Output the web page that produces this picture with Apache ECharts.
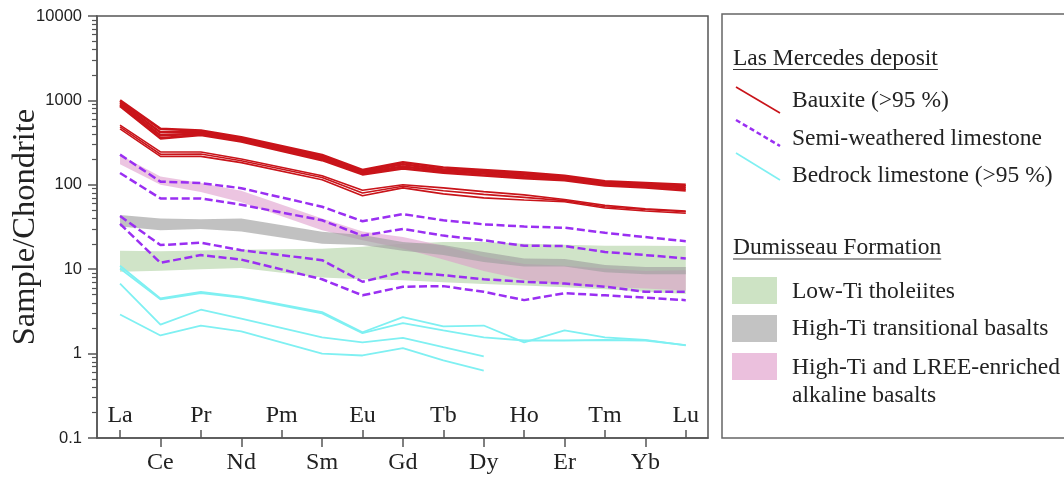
<!DOCTYPE html>
<html>
<head>
<meta charset="utf-8">
<script src="https://cdn.jsdelivr.net/npm/echarts@6/dist/echarts.min.js"></script>
<style>
  html, body { margin: 0; padding: 0; background: #fff; }
  #chart { width: 1064px; height: 477px; }
</style>
</head>
<body>
<div id="chart"></div>
<script>
// REE elements, Pm has no analysis (null), lines run straight through it
const elements = ['La', 'Ce', 'Pr', 'Nd', 'Pm', 'Sm', 'Eu', 'Gd', 'Tb', 'Dy', 'Ho', 'Er', 'Tm', 'Yb', 'Lu'];
const yTicks = [0.1, 1, 10, 100, 1000, 10000];

// Las Mercedes bauxite (>95 %)
const bauxite1 = [1000, 460, 440, 365, null, 225, 150, 185, 160, 150, 140, 128, 110, 105, 100];
const bauxite2 = [950, 420, 420, 350, null, 215, 145, 175, 152, 143, 133, 123, 106, 101, 96];
const bauxite3 = [900, 385, 405, 338, null, 205, 139, 165, 146, 136, 126, 118, 102, 97, 91];
const bauxite4 = [860, 355, 390, 326, null, 196, 133, 156, 139, 129, 120, 113, 98, 93, 86];
const bauxite5 = [510, 245, 245, 202, null, 128, 86, 100, 92, 83, 76, 67, 57, 52, 49];
const bauxite6 = [485, 230, 232, 193, null, 122, 80, 96, 85, 77, 71, 65, 55, 51, 48];
const bauxite7 = [460, 217, 217, 183, null, 115, 74, 92, 78, 70, 66, 63, 53, 49, 46];

// semi-weathered limestone
const semi1 = [228, 109, 105, 91, null, 55, 37, 45, 38, 34, 32, 31, 27, 24, 21.5];
const semi2 = [138, 69, 69, 58, null, 38, 25, 30, 25, 22, 19, 18.8, 16, 14.7, 13.4];
const semi3 = [42.7, 19.3, 20.6, 16.8, null, 12.8, 7.1, 9.3, 8.5, 7.6, 7.1, 6.75, 6.2, 5.4, 5.4];
const semi4 = [34.4, 11.9, 14.7, 13, null, 7.6, 4.9, 6.2, 6.3, 5.4, 4.3, 5.2, 4.9, 4.6, 4.3];

// bedrock limestone (>95 %)
const bedrock1 = [11, 4.5, 5.4, 4.7, null, 3.1, 1.79, 2.71, 2.1, 2.15, 1.36, 1.88, 1.56, 1.45, 1.25];
const bedrock2 = [10.2, 4.4, 5.2, 4.6, null, 3.0, 1.75, 2.29, 1.88, 1.56, 1.43, 1.43, 1.45, 1.43, 1.26];
const bedrock3 = [6.75, 2.21, 3.31, 2.59, null, 1.56, 1.36, 1.54, 1.19, 0.93, null, null, null, null, null];
const bedrock4 = [2.91, 1.64, 2.14, 1.83, null, 1.0, 0.95, 1.16, 0.83, 0.63, null, null, null, null, null];

// Dumisseau Formation fields (upper / lower envelope)
const lowTiUpper = [16.5, 16.3, 16.6, 17, null, 17.5, 18.5, 20, 21, 21, 20, 19.5, 19, 19, 18.8];
const lowTiLower = [9.3, 9.6, 10, 10.3, null, 8.0, 7.6, 7.4, 7.0, 6.7, 6.4, 6.1, 5.8, 5.4, 5.1];
const highTiUpper = [44, 40, 39, 40, null, 27.7, 25.4, 21, 19.3, 16, 13.4, 13.2, 11.2, 10.6, 10.6];
const highTiLower = [32, 29, 30, 28, null, 20, 19.3, 16.5, 14.7, 12.2, 10.8, 10.8, 9.2, 8.7, 8.7];
const alkUpper = [225, 125, 105, 85, null, 40, 28, 24, 19, 14, 11.5, 11, 10.2, 9.5, 9.7];
const alkLower = [175, 100, 82, 62, null, 29, 22, 17.6, 13, 9.5, 7.5, 6.5, 6.2, 5.9, 5.6];

const RED = '#c9141a', PURPLE = '#9a2ff2', CYAN = '#7ff0f2';
const SERIF = 'Liberation Serif', SANS = 'Liberation Sans';
const AXIS = '#555';

const innerIdx = elements.map((e, i) => i).filter(i => i % 2 === 0);
const outerIdx = elements.map((e, i) => i).filter(i => i % 2 === 1);
const minorTicks = [];
yTicks.slice(0, -1).forEach(d => { for (let k = 2; k <= 9; k++) minorTicks.push(+(d * k).toPrecision(3)); });

function pts(vals) {
  return vals.map((v, i) => [i, v]).filter(p => p[1] != null);
}

function line(vals, color, width, type) {
  return {
    type: 'line', data: pts(vals), symbol: 'none', silent: true, z: 5,
    lineStyle: { color: color, width: width, type: type || 'solid', cap: 'butt' }
  };
}

function band(upper, lower, color, z) {
  return {
    type: 'custom', silent: true, z: z, data: [[0, 1]],
    renderItem: function (params, api) {
      const top = pts(upper).map(p => api.coord(p));
      const bot = pts(lower).map(p => api.coord(p)).reverse();
      return { type: 'polygon', shape: { points: top.concat(bot) }, style: { fill: color } };
    }
  };
}

const chart = echarts.init(document.getElementById('chart'));

// legend on the right is drawn as plain graphics
const ctx = document.createElement('canvas').getContext('2d');
const LFONT = 23.5;
ctx.font = LFONT + 'px "' + SERIF + '"';
function txt(x, y, s) {
  return { type: 'text', x: x, y: y, style: { text: s, font: LFONT + 'px "' + SERIF + '"', fill: '#222', verticalAlign: 'middle' } };
}
function underline(x, y, s) {
  return { type: 'line', shape: { x1: x, y1: y, x2: x + ctx.measureText(s).width, y2: y }, style: { stroke: '#333', lineWidth: 1.2 } };
}
const graphics = [
  { type: 'rect', shape: { x: 722, y: 14, width: 400, height: 424 }, style: { fill: '#fff', stroke: '#666', lineWidth: 1.5 } },
  txt(733, 59, 'Las Mercedes deposit'), underline(733, 69.5, 'Las Mercedes deposit'),
  { type: 'line', shape: { x1: 736, y1: 87, x2: 780, y2: 113 }, style: { stroke: RED, lineWidth: 1.6 } },
  txt(792, 100.5, 'Bauxite (>95 %)'),
  { type: 'line', shape: { x1: 736, y1: 120, x2: 780, y2: 146 }, style: { stroke: PURPLE, lineWidth: 2.5, lineDash: [5, 3] } },
  txt(792, 139, 'Semi-weathered limestone'),
  { type: 'line', shape: { x1: 736, y1: 153, x2: 780, y2: 180 }, style: { stroke: CYAN, lineWidth: 1.6 } },
  txt(792, 176, 'Bedrock limestone (>95 %)'),
  txt(733, 248, 'Dumisseau Formation'), underline(733, 259, 'Dumisseau Formation'),
  { type: 'rect', shape: { x: 732, y: 277, width: 45, height: 27 }, style: { fill: '#cde3c4' } },
  txt(792, 292, 'Low-Ti tholeiites'),
  { type: 'rect', shape: { x: 732, y: 315, width: 45, height: 27 }, style: { fill: '#c3c3c3' } },
  txt(792, 329, 'High-Ti transitional basalts'),
  { type: 'rect', shape: { x: 732, y: 353, width: 45, height: 27 }, style: { fill: '#ebc0dd' } },
  txt(792, 368, 'High-Ti and LREE-enriched'),
  txt(792, 396, 'alkaline basalts')
];

const xBase = {
  type: 'value', min: -0.57, max: 14.55, position: 'bottom', offset: 0,
  splitLine: { show: false }
};
const labelFont = { fontFamily: SERIF, fontSize: 24, color: '#222' };

chart.setOption({
  animation: false,
  grid: {
    left: 97, top: 16, right: 356, bottom: 39, show: true, borderColor: AXIS, borderWidth: 1.5,
    containLabel: false, outerBoundsMode: 'none'
  },
  xAxis: [
    Object.assign({}, xBase, {
      axisLine: { onZero: false, lineStyle: { color: AXIS, width: 1.5 } },
      axisTick: { inside: true, length: 8, customValues: innerIdx, lineStyle: { color: AXIS, width: 1.5 } },
      axisLabel: Object.assign({ inside: true, margin: 10, customValues: innerIdx, formatter: v => elements[Math.round(v)] }, labelFont)
    }),
    Object.assign({}, xBase, {
      axisLine: { show: false, onZero: false },
      axisTick: { inside: false, length: 9, customValues: outerIdx, lineStyle: { color: AXIS, width: 1.5 } },
      axisLabel: Object.assign({ margin: 13, customValues: outerIdx, formatter: v => elements[Math.round(v)] }, labelFont)
    })
  ],
  yAxis: [
    {
      type: 'log', logBase: 10, min: 0.1, max: 10000, position: 'left',
      name: 'Sample/Chondrite', nameLocation: 'middle', nameGap: 55, nameMoveOverlap: false,
      nameTextStyle: { fontFamily: SERIF, fontSize: 32.5, color: '#222' },
      axisLine: { show: true, onZero: false, lineStyle: { color: AXIS, width: 1.5 } },
      axisTick: { length: 9, customValues: yTicks, lineStyle: { color: AXIS, width: 1.5 } },
      axisLabel: { margin: 15, customValues: yTicks, fontFamily: SANS, fontSize: 16.5, color: '#222',
        formatter: v => (v < 1 ? v.toFixed(1) : String(Math.round(v))) },
      splitLine: { show: false }
    },
    {
      type: 'log', logBase: 10, min: 0.1, max: 10000, position: 'left', offset: 0,
      axisLine: { show: false, onZero: false },
      axisTick: { length: 5, customValues: minorTicks, lineStyle: { color: AXIS, width: 1.2 } },
      axisLabel: { show: false },
      splitLine: { show: false }
    }
  ],
  series: [
    band(lowTiUpper, lowTiLower, '#d0e4c8', 1),
    band(alkUpper, alkLower, 'rgba(220,150,200,0.55)', 2),
    band(highTiUpper, highTiLower, 'rgba(160,160,160,0.65)', 3),
    line(bedrock1, CYAN, 1.8), line(bedrock2, CYAN, 1.8), line(bedrock3, CYAN, 1.8), line(bedrock4, CYAN, 1.8),
    line(semi1, PURPLE, 2.5, [8, 3.5]), line(semi2, PURPLE, 2.5, [8, 3.5]),
    line(semi3, PURPLE, 2.5, [8, 3.5]), line(semi4, PURPLE, 2.5, [8, 3.5]),
    line(bauxite1, RED, 2.6), line(bauxite2, RED, 2.6), line(bauxite3, RED, 2.6), line(bauxite4, RED, 2.6),
    line(bauxite5, RED, 1.6), line(bauxite6, RED, 1.6), line(bauxite7, RED, 1.6)
  ],
  graphic: graphics
});
</script>
</body>
</html>
